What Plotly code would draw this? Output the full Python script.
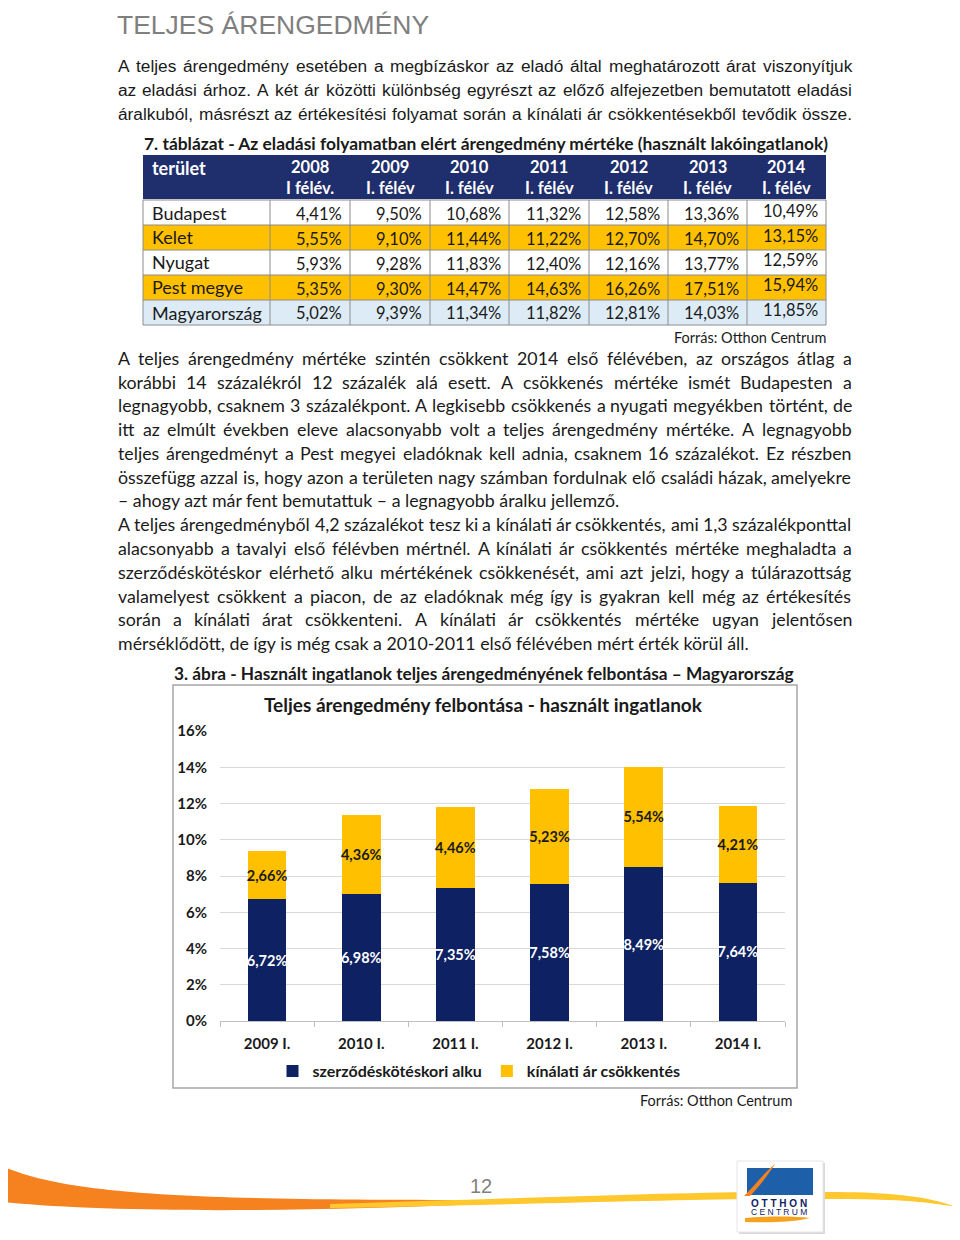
import os
import struct
import plotly.graph_objects as go

W, H = 960, 1240
OFF_X, OFF_Y = 8, 8  # page body margin of the html page


def X(px):
    return (px - OFF_X) / W


def Y(py):
    return 1 - (py - OFF_Y) / H

# ---------------- data ----------------
categories = ["2009 I.", "2010 I.", "2011 I.", "2012 I.", "2013 I.", "2014 I."]
alku = [6.72, 6.98, 7.35, 7.58, 8.49, 7.64]
kinalati = [2.66, 4.36, 4.46, 5.23, 5.54, 4.21]
series_names = ["szerződéskötéskori alku", "kínálati ár csökkentés"]
y_ticks = [0, 2, 4, 6, 8, 10, 12, 14, 16]
y_ticklabels = ["0%", "2%", "4%", "6%", "8%", "10%", "12%", "14%", "16%"]

table_years = ["2008", "2009", "2010", "2011", "2012", "2013", "2014"]
table_sub = ["I félév.", "I. félév", "I. félév", "I. félév", "I. félév", "I. félév", "I. félév"]
regions = ["Budapest", "Kelet", "Nyugat", "Pest megye", "Magyarország"]
budapest = ["4,41%", "9,50%", "10,68%", "11,32%", "12,58%", "13,36%", "10,49%"]
kelet = ["5,55%", "9,10%", "11,44%", "11,22%", "12,70%", "14,70%", "13,15%"]
nyugat = ["5,93%", "9,28%", "11,83%", "12,40%", "12,16%", "13,77%", "12,59%"]
pest_megye = ["5,35%", "9,30%", "14,47%", "14,63%", "16,26%", "17,51%", "15,94%"]
magyarorszag = ["5,02%", "9,39%", "11,34%", "11,82%", "12,81%", "14,03%", "11,85%"]
table_rows = [budapest, kelet, nyugat, pest_megye, magyarorszag]

heading = "TELJES ÁRENGEDMÉNY"
para1 = [
    "A teljes árengedmény esetében a megbízáskor az eladó által meghatározott árat viszonyítjuk",
    "az eladási árhoz. A két ár közötti különbség egyrészt az előző alfejezetben bemutatott eladási",
    "áralkuból, másrészt az értékesítési folyamat során a kínálati ár csökkentésekből tevődik össze.",
]
table_title = "7. táblázat - Az eladási folyamatban elért árengedmény mértéke (használt lakóingatlanok)"
para2 = [
    "A teljes árengedmény mértéke szintén csökkent 2014 első félévében, az országos átlag a",
    "korábbi 14 százalékról 12 százalék alá esett. A csökkenés mértéke ismét Budapesten a",
    "legnagyobb, csaknem 3 százalékpont. A legkisebb csökkenés a nyugati megyékben történt, de",
    "itt az elmúlt években eleve alacsonyabb volt a teljes árengedmény mértéke. A legnagyobb",
    "teljes árengedményt a Pest megyei eladóknak kell adnia, csaknem 16 százalékot. Ez részben",
    "összefügg azzal is, hogy azon a területen nagy számban fordulnak elő családi házak, amelyekre",
    "– ahogy azt már fent bemutattuk – a legnagyobb áralku jellemző.",
    "A teljes árengedményből 4,2 százalékot tesz ki a kínálati ár csökkentés, ami 1,3 százalékponttal",
    "alacsonyabb a tavalyi első félévben mértnél. A kínálati ár csökkentés mértéke meghaladta a",
    "szerződéskötéskor elérhető alku mértékének csökkenését, ami azt jelzi, hogy a túlárazottság",
    "valamelyest csökkent a piacon, de az eladóknak még így is gyakran kell még az értékesítés",
    "során a kínálati árat csökkenteni. A kínálati ár csökkentés mértéke ugyan jelentősen",
    "mérséklődött, de így is még csak a 2010-2011 első félévében mért érték körül áll.",
]
para2_last_lines = [6, 12]
fig_caption = "3. ábra - Használt ingatlanok teljes árengedményének felbontása – Magyarország"
chart_title = "Teljes árengedmény felbontása - használt ingatlanok"
source = "Forrás: Otthon Centrum"
page_number = "12"

# ---------------- styles ----------------
NAVY = "#0E2263"
HEAD = "#1F2E6C"
YELLOW = "#FFC000"
LIGHTBLUE = "#DDEBF7"
BODY_FONT = "Lato, Open Sans, sans-serif"
ARIAL = "Liberation Sans, Arial, sans-serif"
TXT = "#1a1a1a"


# ---------------- simple font metrics (for justified text) ----------------
def find_font(name):
    for root in ["/usr/share/fonts", "/usr/local/share/fonts", os.path.expanduser("~/.fonts"),
                 os.path.expanduser("~/.local/share/fonts")]:
        if not os.path.isdir(root):
            continue
        for dp, dn, fns in os.walk(root):
            if name in fns:
                return os.path.join(dp, name)
    return None


class Metrics:
    def __init__(self, path):
        d = open(path, "rb").read()
        self.d = d
        n = struct.unpack(">H", d[4:6])[0]
        t = {}
        for i in range(n):
            tag, cs, off, ln = struct.unpack(">4sIII", d[12 + 16 * i:28 + 16 * i])
            t[tag.decode("latin1")] = off
        self.upem = struct.unpack(">H", d[t["head"] + 18:t["head"] + 20])[0]
        nhm = struct.unpack(">H", d[t["hhea"] + 34:t["hhea"] + 36])[0]
        hm = t["hmtx"]
        self.adv = [struct.unpack(">H", d[hm + 4 * i:hm + 4 * i + 2])[0] for i in range(nhm)]
        cm = t["cmap"]
        nsub = struct.unpack(">H", d[cm + 2:cm + 4])[0]
        self.sub = None
        for i in range(nsub):
            pid, eid, off = struct.unpack(">HHI", d[cm + 4 + 8 * i:cm + 12 + 8 * i])
            fmt = struct.unpack(">H", d[cm + off:cm + off + 2])[0]
            if fmt == 4 and (pid == 0 or (pid == 3 and eid == 1)):
                self.sub = cm + off
                break
        s = self.sub
        segx2 = struct.unpack(">H", d[s + 6:s + 8])[0]
        seg = segx2 // 2
        self.seg = seg
        self.endc = struct.unpack(">%dH" % seg, d[s + 14:s + 14 + segx2])
        st = s + 16 + segx2
        self.startc = struct.unpack(">%dH" % seg, d[st:st + segx2])
        self.delta = struct.unpack(">%dh" % seg, d[st + segx2:st + 2 * segx2])
        self.rofs_pos = st + 2 * segx2
        self.rofs = struct.unpack(">%dH" % seg, d[self.rofs_pos:self.rofs_pos + segx2])

    def gid(self, c):
        for i in range(self.seg):
            if self.endc[i] >= c:
                if self.startc[i] > c:
                    return 0
                if self.rofs[i] == 0:
                    return (c + self.delta[i]) & 0xFFFF
                addr = self.rofs_pos + 2 * i + self.rofs[i] + 2 * (c - self.startc[i])
                g = struct.unpack(">H", self.d[addr:addr + 2])[0]
                return (g + self.delta[i]) & 0xFFFF if g else 0
        return 0

    def width(self, text, size):
        tot = 0
        for ch in text:
            g = self.gid(ord(ch))
            tot += self.adv[min(g, len(self.adv) - 1)]
        return tot * size / self.upem


def load_metrics(fname):
    try:
        p = find_font(fname)
        return Metrics(p) if p else None
    except Exception:
        return None


lato_m = load_metrics("Lato-Regular.ttf")
arial_m = load_metrics("LiberationSans-Regular.ttf")


def fmt(v):
    return f"{v:.2f}".replace(".", ",") + "%"

fig = go.Figure()
fig.add_trace(go.Bar(
    x=categories, y=alku, name=series_names[0], marker=dict(color=NAVY, line=dict(width=0)),
    text=[fmt(v) for v in alku], textposition="inside", insidetextanchor="middle",
    textfont=dict(color="white", size=14.5, family=BODY_FONT, weight="bold"), textangle=0,
    cliponaxis=False,
))
fig.add_trace(go.Bar(
    x=categories, y=kinalati, name=series_names[1], marker=dict(color=YELLOW, line=dict(width=0)),
    text=[fmt(v) for v in kinalati], textposition="inside", insidetextanchor="middle",
    textfont=dict(color=TXT, size=14.5, family=BODY_FONT, weight="bold"), textangle=0,
    cliponaxis=False,
))

annotations = []
shapes = []


def txt(s, x, y, size, color=TXT, family=BODY_FONT, bold=False, xanchor="left"):
    annotations.append(dict(
        text=s, x=X(x), y=Y(y), xref="paper", yref="paper", showarrow=False,
        xanchor=xanchor, yanchor="middle", borderpad=0,
        font=dict(size=size, color=color, family=family, weight="bold" if bold else "normal"),
    ))


def justified(line, x0, x1, y, size, family, metrics):
    words = line.split(" ")
    if metrics is None or len(words) < 2:
        txt(line, x0, y, size, family=family)
        return
    widths = [metrics.width(w, size) for w in words]
    gap = (x1 - x0 - sum(widths)) / (len(words) - 1)
    if gap < metrics.width(" ", size) * 0.6:
        gap = metrics.width(" ", size) * 0.6
    xx = x0
    for w, wd in zip(words, widths):
        txt(w, xx, y, size, family=family)
        xx += wd + gap


def rect(x0, y0, x1, y1, fill=None, line=None, lw=1):
    shapes.append(dict(
        type="rect", xref="paper", yref="paper", x0=X(x0), x1=X(x1), y0=Y(y1), y1=Y(y0),
        fillcolor=fill if fill else "rgba(0,0,0,0)",
        line=dict(color=line if line else "rgba(0,0,0,0)", width=lw if line else 0),
        layer="below",
    ))


def hline(x0, x1, y, color, w=1):
    shapes.append(dict(type="line", xref="paper", yref="paper", x0=X(x0), x1=X(x1),
                       y0=Y(y), y1=Y(y), line=dict(color=color, width=w)))


def vline(x, y0, y1, color, w=1):
    shapes.append(dict(type="line", xref="paper", yref="paper", x0=X(x), x1=X(x),
                       y0=Y(y0), y1=Y(y1), line=dict(color=color, width=w)))


def path(points_cmd, fill, line=None, lw=0):
    s = ""
    for cmd, pts in points_cmd:
        s += cmd + " " + " ".join(f"{X(px):.5f},{Y(py):.5f}" for px, py in pts) + " "
    s += "Z"
    shapes.append(dict(type="path", xref="paper", yref="paper", path=s, fillcolor=fill,
                       line=dict(color=line if line else "rgba(0,0,0,0)", width=lw)))

# heading + paragraph 1
txt(heading, 116, 25, 26.5, color="#7f7f7f", family=ARIAL)
for i, line in enumerate(para1):
    justified(line, 117, 851, 66 + i * 24, 17.3, ARIAL, arial_m)

# table
txt(table_title, 143, 144, 17.4, bold=True)
col_edges = [143, 270, 350, 430, 509, 589, 668, 747, 826]
row_edges = [200, 225, 250, 275, 300, 325]
row_fills = ["white", YELLOW, "white", YELLOW, LIGHTBLUE]
rect(143, 155, 826, 199, fill=HEAD)
for r in range(len(regions)):
    rect(143, row_edges[r], 826, row_edges[r + 1], fill=row_fills[r])
for ye in row_edges:
    hline(143, 826, ye, "#8c8c8c")
for xe in col_edges:
    vline(xe, 200, 325, "#8c8c8c")
txt("terület", 151, 168, 18, color="white", bold=True)
for c in range(len(table_years)):
    cx = (col_edges[c + 1] + col_edges[c + 2]) / 2
    txt(table_years[c], cx, 167, 16.5, color="white", bold=True, xanchor="center")
    txt(table_sub[c], cx, 188, 16.5, color="white", bold=True, xanchor="center")
for r, region in enumerate(regions):
    cy = (row_edges[r] + row_edges[r + 1]) / 2
    txt(region, 151, cy, 18)
    for c, val in enumerate(table_rows[r]):
        if c == 6:
            txt(val, col_edges[c + 2] - 7, cy - 2, 16.5, xanchor="right")
        else:
            txt(val, col_edges[c + 2] - 7, cy + 1, 16.5, xanchor="right")
txt(source, 827, 337, 14.5, xanchor="right")

# paragraph 2
p2_y = [358, 382, 405, 429, 453, 477, 500, 524, 548, 572, 596, 619, 643]
for i, (yy, line) in enumerate(zip(p2_y, para2)):
    if i in para2_last_lines:
        txt(line, 117, yy, 17.8)
    else:
        justified(line, 117, 851, yy, 17.8, BODY_FONT, lato_m)

# chart caption, frame, title
txt(fig_caption, 173, 673, 17.3, bold=True)
rect(173, 685, 797, 1088, fill="white", line="#a6a6a6", lw=1.5)
txt(chart_title, 483, 704, 19, bold=True, xanchor="center")
txt(source, 793, 1100, 14.5, xanchor="right")

# footer swoosh
path([("M", [(2, 1166)]), ("C", [(70, 1196), (200, 1200), (480, 1200)]),
      ("L", [(480, 1204)]), ("C", [(300, 1212), (110, 1213), (2, 1202)])], "#F5821F")
path([("M", [(330, 1204)]), ("C", [(500, 1199), (650, 1193), (760, 1192)]),
      ("L", [(830, 1192)]), ("C", [(880, 1192), (925, 1195), (956, 1207)]),
      ("C", [(920, 1200), (880, 1199), (830, 1199)]), ("L", [(760, 1199)]),
      ("C", [(650, 1200), (500, 1205), (330, 1208)])], "#FFC82E")
txt(page_number, 481, 1186, 20, color="#7f7f7f", family=ARIAL, xanchor="center")

# logo
shapes.append(dict(type="rect", xref="paper", yref="paper", x0=X(739), x1=X(825), y0=Y(1234), y1=Y(1163),
                   fillcolor="#d9d9d9", line=dict(width=0)))
shapes.append(dict(type="rect", xref="paper", yref="paper", x0=X(737), x1=X(823), y0=Y(1232), y1=Y(1161),
                   fillcolor="white", line=dict(color="#e6e6e6", width=1)))
shapes.append(dict(type="rect", xref="paper", yref="paper", x0=X(747), x1=X(813), y0=Y(1195), y1=Y(1168),
                   fillcolor="#1E5FAA", line=dict(width=0)))
path([("M", [(744, 1196)]), ("C", [(755, 1185), (765, 1172), (775, 1164)]),
      ("C", [(768, 1175), (758, 1188), (750, 1196)])], "#F5821F")
path([("M", [(778, 1165)]), ("L", [(815, 1197), (810, 1197)])], "#FFC82E")
txt("O T T H O N", 779, 1203, 10, color="#0E2263", bold=True, xanchor="center", family=ARIAL)
txt("C E N T R U M", 779, 1212, 8.5, color="#0E2263", xanchor="center", family=ARIAL)
path([("M", [(745, 1218)]), ("C", [(770, 1216), (795, 1216), (810, 1218)]),
      ("C", [(795, 1222), (770, 1223), (745, 1222)])], "#F5A21F")

fig.update_layout(
    width=W, height=H, margin=dict(l=0, r=0, t=0, b=0, pad=0, autoexpand=False),
    paper_bgcolor="white", plot_bgcolor="white",
    barmode="stack", bargap=0.59,
    showlegend=True,
    legend=dict(orientation="h", x=X(479), xanchor="center", y=Y(1071), yanchor="middle",
                font=dict(size=16, family=BODY_FONT, color=TXT, weight="bold"),
                bgcolor="rgba(0,0,0,0)", traceorder="normal", itemwidth=30),
    uniformtext=dict(minsize=14.5, mode="show"),
    xaxis=dict(domain=[X(220), X(785)], type="category", showgrid=False, showline=True,
               linecolor="#bfbfbf", linewidth=1, ticks="outside", tickson="boundaries",
               ticklen=5, tickcolor="#bfbfbf", ticklabelstandoff=9, automargin=False,
               tickfont=dict(size=15, family=BODY_FONT, color=TXT, weight="bold")),
    yaxis=dict(domain=[Y(1021), Y(731)], range=[0, 16], tickvals=y_ticks, ticktext=y_ticklabels,
               showgrid=True, gridcolor="#d9d9d9", gridwidth=1, zeroline=False, showline=False,
               ticks="", ticklabelstandoff=12, automargin=False,
               tickfont=dict(size=15, family=BODY_FONT, color=TXT, weight="bold")),
    annotations=annotations, shapes=shapes,
)

fig.write_html("out.html")
